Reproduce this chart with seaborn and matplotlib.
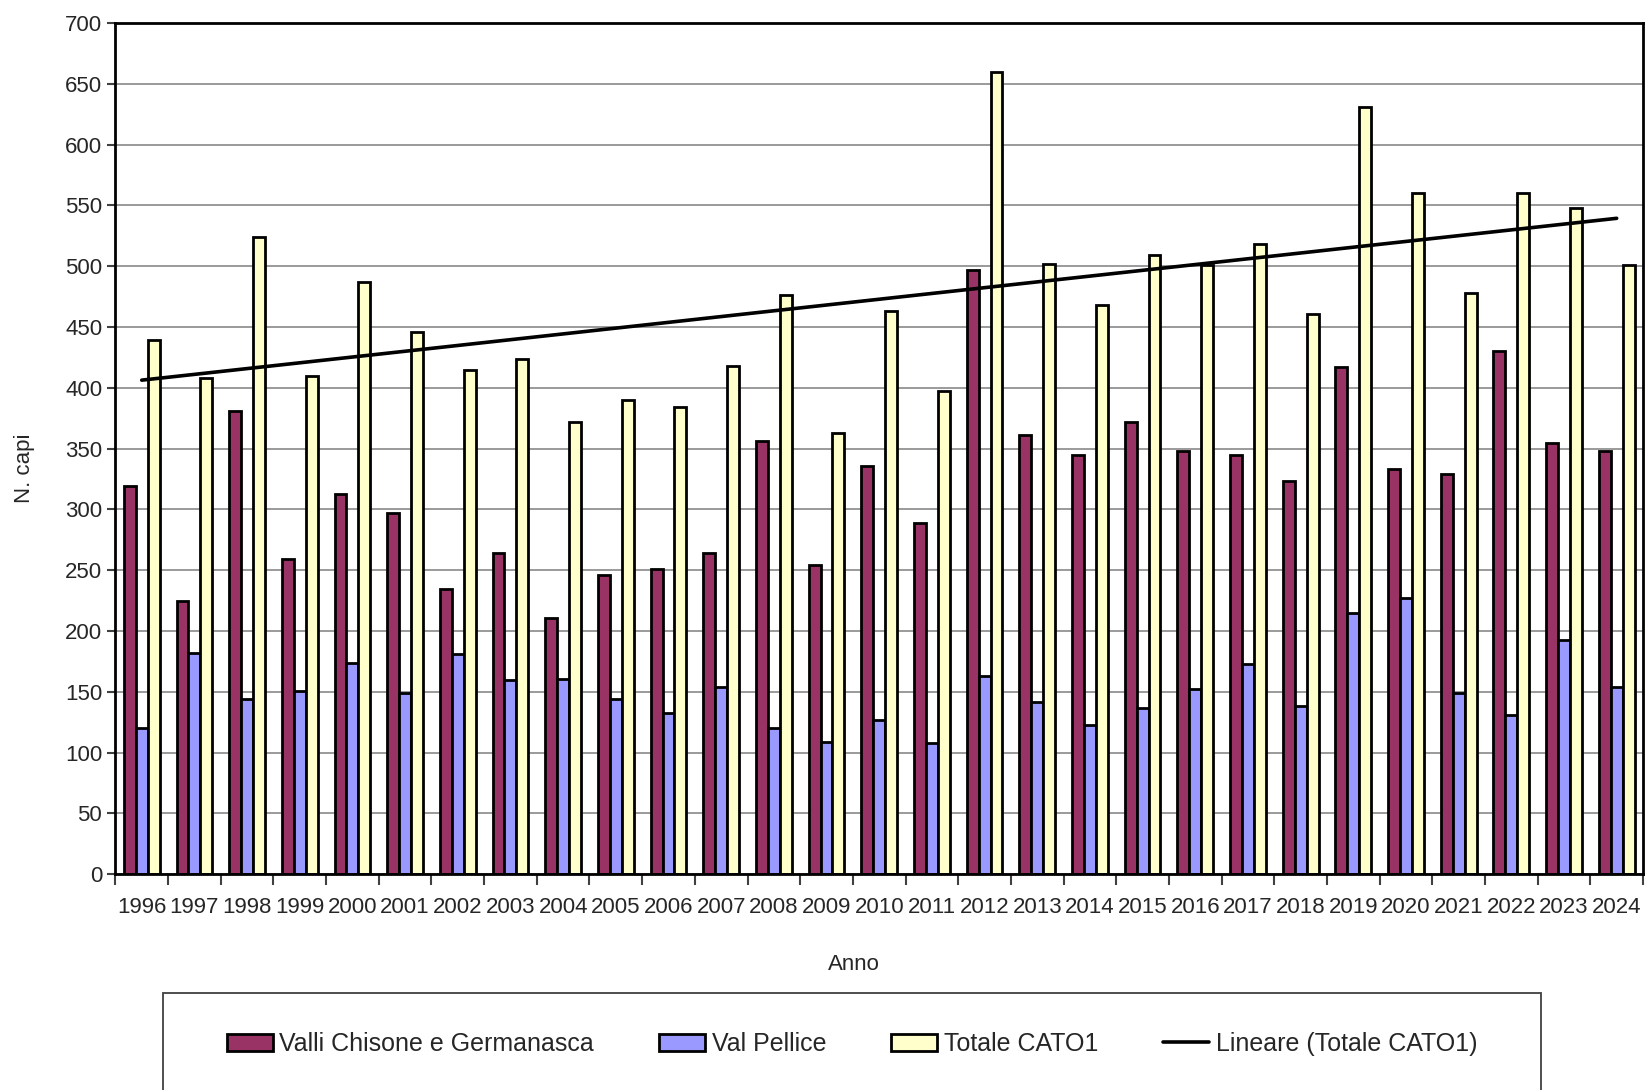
import numpy as np
import pandas as pd
import seaborn as sns
import matplotlib.pyplot as plt
from matplotlib.patches import Rectangle

sns.set_theme(style="white")
plt.rcParams['font.family'] = ['Liberation Sans', 'DejaVu Sans']

anni = [str(a) for a in range(1996, 2025)]
chisone = [319, 225, 381, 259, 313, 297, 235, 264, 211, 246, 251, 264, 356, 254, 336,
           289, 497, 361, 345, 372, 348, 345, 323, 417, 333, 329, 430, 355, 348]
pellice = [120, 182, 144, 151, 174, 149, 181, 160, 161, 144, 133, 154, 120, 109, 127,
           108, 163, 142, 123, 137, 152, 173, 138, 215, 227, 149, 131, 193, 154]
totale = [439, 408, 524, 410, 487, 446, 415, 424, 372, 390, 384, 418, 476, 363, 463,
          397, 660, 502, 468, 509, 501, 518, 461, 631, 560, 478, 560, 548, 501]
serie = ['Valli Chisone e Germanasca', 'Val Pellice', 'Totale CATO1']
colori = ['#993366', '#9999FF', '#FFFFCC']

df = pd.DataFrame({
    'Anno': anni * 3,
    'N': chisone + pellice + totale,
    'Serie': [s for s in serie for _ in anni],
})

fig = plt.figure(figsize=(16.45, 10.9), dpi=100)
ax = fig.add_axes([115.4 / 1645, 1 - 874.3 / 1090, 1527.6 / 1645, 851.3 / 1090])

sns.barplot(data=df, x='Anno', y='N', hue='Serie', order=anni, hue_order=serie,
            palette=colori, saturation=1, width=0.68, edgecolor='black',
            linewidth=2, ax=ax)

# linear trend of the total
xs = np.arange(len(anni))
coef = np.polyfit(xs, totale, 1)
ax.plot(xs, np.polyval(coef, xs), color='black', lw=2.6, label='Lineare (Totale CATO1)')

ax.set_ylim(0, 700)
ax.set_yticks(range(0, 701, 50))
ax.set_xlim(-0.5, len(anni) - 0.5)
ax.yaxis.grid(True, color='#7f7f7f', lw=1.1)
ax.set_axisbelow(True)
for sp in ax.spines.values():
    sp.set_color('black')
    sp.set_linewidth(2)

ax.set_xticks(np.arange(-0.5, len(anni), 1), minor=True)
ax.tick_params(axis='x', which='major', length=0, pad=16, labelsize=16)
ax.tick_params(axis='x', which='minor', length=8, width=1.5, color='#404040', bottom=True)
ax.tick_params(axis='y', length=6, width=1.5, color='#404040', left=True, labelsize=16)

ax.set_ylabel('N. capi', fontsize=16)
ax.set_xlabel('Anno', fontsize=16)
ax.yaxis.set_label_coords(-0.0526, 0.477)
ax.xaxis.set_label_coords(0.4835, -0.094)

handles, labels = ax.get_legend_handles_labels()
ax.get_legend().remove()
fig.legend(handles, labels, loc='center', bbox_to_anchor=(852 / 1645, 1 - 1044 / 1090),
           ncol=4, frameon=False, fontsize=18, handlelength=1.85, handleheight=0.7,
           handletextpad=0.25, columnspacing=2.6)
fig.add_artist(Rectangle((163 / 1645, -0.05), (1541 - 163) / 1645, 0.089 + 0.05,
                         transform=fig.transFigure, fill=False, edgecolor='#404040',
                         lw=1.3, clip_on=False))

fig.savefig('out.png', dpi=100)
